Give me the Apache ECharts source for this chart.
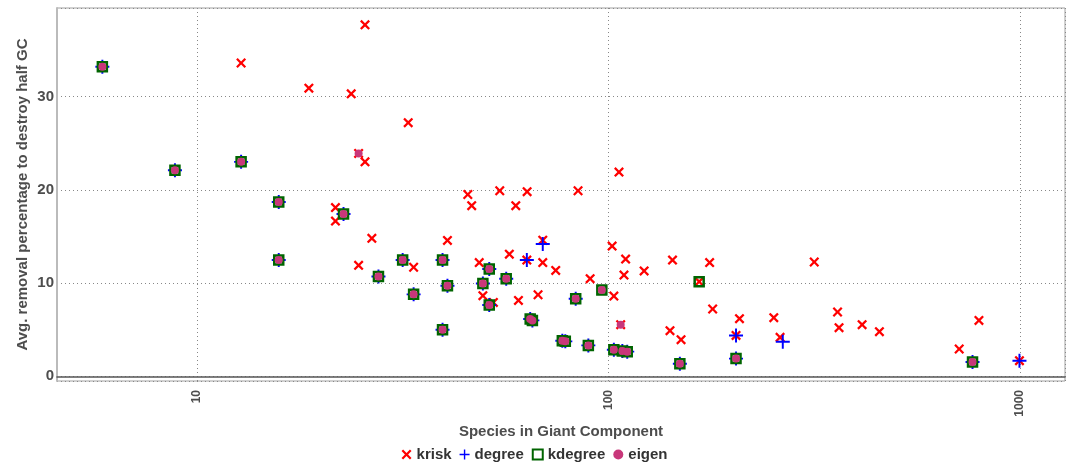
<!DOCTYPE html>
<html>
<head>
<meta charset="utf-8">
<script src="https://cdn.jsdelivr.net/npm/echarts@6/dist/echarts.min.js"></script>
<style>
html,body{margin:0;padding:0;background:#fff;}
#chart{width:1069px;height:469px;}
</style>
</head>
<body>
<div id="chart"></div>
<script>
// ---- data (x = species in giant component, y = avg removal %) ----
const seriesNames = ['krisk', 'degree', 'kdegree', 'eigen'];
const xTickLabels = ['10', '100', '1000'];

const kriskPoints = [
  [12.8,33.6],[25.6,37.7],[18.7,30.9],[23.7,30.3],[24.7,23.9],[25.6,23.0],[32.6,27.2],
  [45.5,19.5],[54.4,19.9],[63.4,19.8],[84.3,19.9],[106,21.9],[21.7,18.1],[21.7,16.65],
  [26.6,14.8],[24.7,11.9],[40.6,14.57],[46.5,18.3],[59.5,18.3],[33.6,11.7],[48.5,12.2],
  [57.4,13.1],[49.5,8.65],[52.5,7.93],[60.4,8.14],[67.4,8.75],[63.3,12.47],[69.2,14.6],
  [69.2,12.2],[74.4,11.36],[90.2,10.47],[102,13.97],[110,12.58],[109,10.86],[122,11.3],
  [143,12.47],[176,12.2],[103,8.61],[107,5.54],[141,4.9],[150,3.93],[179,7.22],[166,10.15],
  [316,12.26],[208,6.18],[204,4.39],[252,6.29],[261,4.18],[360,6.9],[363,5.22],[413,5.54],
  [455,4.79],[711,2.93],[794,6.0],[996,1.68]
];

const degreePoints = [
  [5.89,33.2],[8.84,22.1],[12.8,23.0],[15.8,18.7],[15.8,12.47],[22.7,17.4],[27.6,10.7],
  [31.6,12.47],[33.6,8.79],[39.5,12.47],[40.6,9.72],[39.5,5.0],[51.3,11.5],[49.5,9.96],
  [56.4,10.47],[51.3,7.65],[64.5,6.15],[65.3,6.0],[77.2,3.82],[78.5,3.75],[89.3,3.32],
  [83.2,8.32],[103,2.86],[108,2.72],[111,2.65],[149,1.36],[204,1.9],[766,1.54],
  [63.3,12.47],[69.2,14.2],[204,4.39],[265,3.72],[996,1.68]
];

const kdegreePoints = [
  [5.89,33.2],[8.84,22.1],[12.8,23.0],[15.8,18.7],[15.8,12.47],[22.7,17.4],[27.6,10.7],
  [31.6,12.47],[33.6,8.79],[39.5,12.47],[40.6,9.72],[39.5,5.0],[51.3,11.5],[49.5,9.96],
  [56.4,10.47],[51.3,7.65],[64.5,6.15],[65.3,6.0],[77.2,3.82],[78.5,3.75],[89.3,3.32],
  [83.2,8.32],[103,2.86],[108,2.72],[111,2.65],[149,1.36],[204,1.9],[766,1.54],
  [96.3,9.26],[166,10.15]
];

const eigenPoints = [
  [5.89,33.2],[8.84,22.1],[12.8,23.0],[15.8,18.7],[15.8,12.47],[22.7,17.4],[27.6,10.7],
  [31.6,12.47],[33.6,8.79],[39.5,12.47],[40.6,9.72],[39.5,5.0],[51.3,11.5],[49.5,9.96],
  [56.4,10.47],[51.3,7.65],[64.5,6.15],[65.3,6.0],[77.2,3.82],[78.5,3.75],[89.3,3.32],
  [83.2,8.32],[103,2.86],[108,2.72],[111,2.65],[149,1.36],[204,1.9],[766,1.54],
  [96.3,9.26],[24.7,23.9],[107,5.54]
];

// ---- styling ----
const FONT = 'Liberation Sans, Arial, sans-serif';
const TXT = '#4d4d4d';
const X_PATH = 'path://M0,1.6L1.6,0L5,3.4L8.4,0L10,1.6L6.6,5L10,8.4L8.4,10L5,6.6L1.6,10L0,8.4L3.4,5Z';
const PLUS_PATH = 'path://M4.3,0L5.7,0L5.7,4.3L10,4.3L10,5.7L5.7,5.7L5.7,10L4.3,10L4.3,5.7L0,5.7L0,4.3L4.3,4.3Z';

const chart = echarts.init(document.getElementById('chart'), null, {renderer: 'canvas'});
chart.setOption({
  backgroundColor: '#fff',
  animation: false,
  grid: {left: 57, right: 4, top: 8, bottom: 88, show: true, borderColor: '#a0a0a0', borderWidth: 1, backgroundColor: 'transparent'},
  legend: {
    bottom: 2, left: 'center',
    itemWidth: 10, itemHeight: 10, itemGap: 8,
    textStyle: {fontFamily: FONT, fontSize: 15, fontWeight: 'bold', color: '#333'},
    data: seriesNames
  },
  xAxis: {
    type: 'log', logBase: 10, min: 4.57, max: 1285,
    name: 'Species in Giant Component', nameLocation: 'middle', nameGap: 37,
    nameTextStyle: {fontFamily: FONT, fontSize: 15, fontWeight: 'bold', color: TXT},
    axisLine: {show: true, lineStyle: {color: '#555', width: 1.5}},
    axisTick: {show: false},
    axisLabel: {
      rotate: 90, showMinLabel: false, showMaxLabel: false, margin: 9,
      fontFamily: FONT, fontSize: 12, fontWeight: 'bold', color: TXT,
      formatter: function (v) { const s = String(Math.round(v)); return xTickLabels.indexOf(s) >= 0 ? s : ''; }
    },
    splitLine: {show: true, lineStyle: {color: '#888', type: [1, 3], width: 1}},
    minorSplitLine: {show: false}
  },
  yAxis: {
    type: 'value', min: -0.5, max: 39.5,
    name: 'Avg. removal percentage to destroy half GC', nameLocation: 'middle', nameGap: 27,
    nameMoveOverlap: false,
    nameTextStyle: {fontFamily: FONT, fontSize: 15, fontWeight: 'bold', color: TXT},
    axisLine: {show: true, lineStyle: {color: '#bbb', width: 2}},
    axisTick: {show: false},
    axisLabel: {showMinLabel: false, showMaxLabel: false, margin: 3,
      fontFamily: FONT, fontSize: 15, fontWeight: 'bold', color: TXT},
    splitLine: {show: true, lineStyle: {color: '#888', type: [1, 3], width: 1}}
  },
  series: [
    {name: 'krisk', type: 'scatter', data: kriskPoints, symbol: X_PATH, symbolSize: 10,
      itemStyle: {color: '#ff0000', opacity: 1}},
    {name: 'degree', type: 'scatter', data: degreePoints, symbol: PLUS_PATH, symbolSize: 14,
      itemStyle: {color: '#0000ff', opacity: 1}},
    {name: 'kdegree', type: 'scatter', data: kdegreePoints, symbol: 'rect', symbolSize: 9,
      itemStyle: {color: 'rgba(0,0,0,0)', borderColor: '#006400', borderWidth: 2.5, opacity: 1}},
    {name: 'eigen', type: 'scatter', data: eigenPoints, symbol: 'circle', symbolSize: 8,
      itemStyle: {color: '#c8377a', opacity: 1}}
  ]
});
</script>
</body>
</html>
